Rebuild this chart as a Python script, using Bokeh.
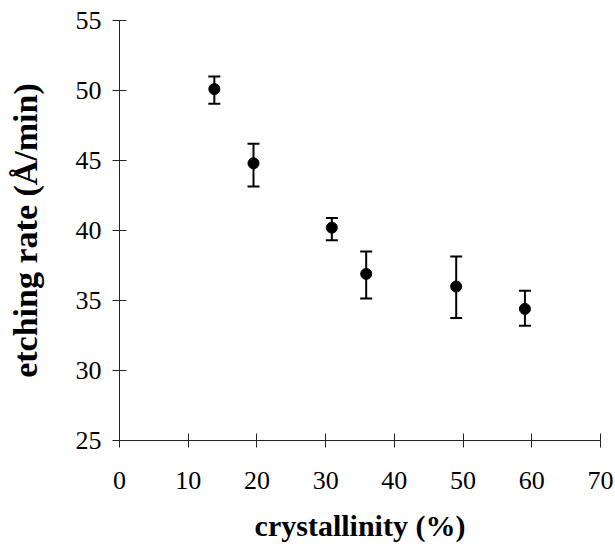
from bokeh.plotting import figure
from bokeh.models import Range1d, FixedTicker, ColumnDataSource, Whisker, TeeHead
from bokeh.embed import file_html
from bokeh.resources import INLINE

crystallinity = [13.8, 19.5, 30.9, 35.9, 49.0, 59.0]
etch_rate = [50.1, 44.8, 40.2, 36.9, 36.0, 34.4]
err_upper = [51.0, 46.2, 40.9, 38.5, 38.15, 35.7]
err_lower = [49.05, 43.15, 39.3, 35.15, 33.75, 33.2]
x_ticks = [0, 10, 20, 30, 40, 50, 60, 70]
y_ticks = [25, 30, 35, 40, 45, 50, 55]

src = ColumnDataSource(dict(x=crystallinity, y=etch_rate, upper=err_upper, lower=err_lower))

p = figure(width=613, height=546, output_backend="svg", toolbar_location=None,
           x_range=Range1d(0, 70), y_range=Range1d(25, 55),
           min_border_left=119, min_border_right=13, min_border_top=20, min_border_bottom=106)
p.outline_line_color = None
p.xgrid.visible = False
p.ygrid.visible = False
p.background_fill_color = "white"
p.border_fill_color = "white"

font = "Liberation Serif"
for ax in (p.xaxis[0], p.yaxis[0]):
    ax.axis_line_color = "#222222"
    ax.axis_line_width = 1
    ax.major_tick_line_color = "#222222"
    ax.major_tick_in = 7
    ax.major_tick_out = 7
    ax.minor_tick_line_color = None
    ax.major_label_text_font = font
    ax.major_label_text_font_size = "26px"
    ax.major_label_text_color = "black"
    ax.axis_label_text_font = font
    ax.axis_label_text_font_style = "bold"
    ax.axis_label_text_color = "black"

p.xaxis.axis_label_text_font_size = "30px"
p.yaxis.axis_label_text_font_size = "34px"
p.xaxis.ticker = FixedTicker(ticks=x_ticks)
p.yaxis.ticker = FixedTicker(ticks=y_ticks)
p.xaxis.axis_label = "crystallinity (%)"
p.yaxis.axis_label = "etching rate (Å/min)"
p.xaxis.major_label_standoff = 24
p.yaxis.major_label_standoff = 11
p.xaxis.axis_label_standoff = 17
p.yaxis.axis_label_standoff = 29

w = Whisker(source=src, base="x", upper="upper", lower="lower", dimension="height",
            line_color="black", line_width=2,
            upper_head=TeeHead(size=12, line_color="black", line_width=2),
            lower_head=TeeHead(size=12, line_color="black", line_width=2))
p.add_layout(w)
p.scatter("x", "y", source=src, size=11, fill_color="black", line_color="black")

open("out.html", "w").write(file_html(p, INLINE))
